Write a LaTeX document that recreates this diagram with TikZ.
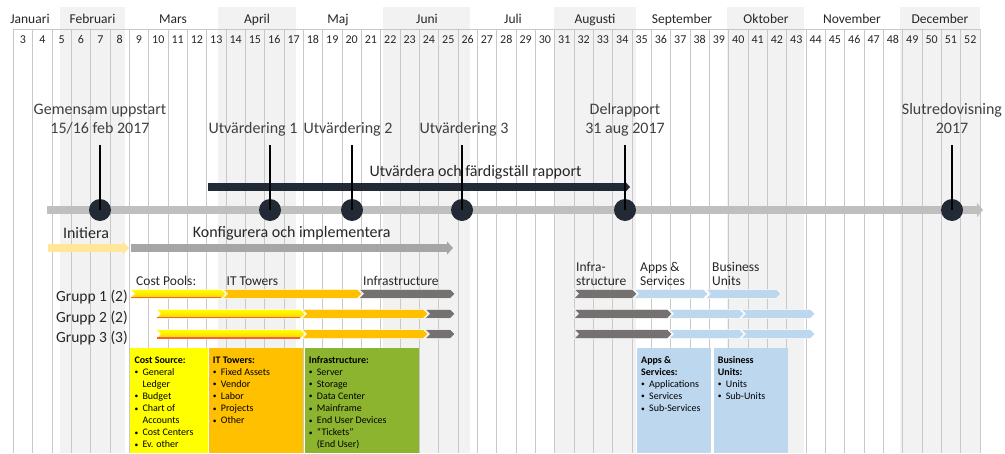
\documentclass[tikz,border=0pt]{standalone}
\usepackage{fontspec}
\setmainfont{Carlito}
\usetikzlibrary{arrows.meta}

\definecolor{band}{HTML}{F2F2F2}
\definecolor{gridc}{HTML}{C8C8C8}
\definecolor{txt}{HTML}{262626}
\definecolor{lbl}{HTML}{404040}
\definecolor{axis}{HTML}{BFBFBF}
\definecolor{navy}{HTML}{222A35}
\definecolor{initc}{HTML}{FFE699}
\definecolor{implc}{HTML}{A6A6A6}
\definecolor{ylw}{HTML}{FFFF00}
\definecolor{ylwb}{HTML}{FFD200}
\definecolor{redl}{HTML}{F4623A}
\definecolor{org}{HTML}{FFC000}
\definecolor{dgray}{HTML}{767171}
\definecolor{lblue}{HTML}{BDD7EE}
\definecolor{grn}{HTML}{8DB42F}

\newcommand\fsz[2]{\fontsize{#1}{#2}\selectfont}
\newcommand\bl[1]{\makebox[8pt][l]{\raisebox{0.6pt}{\fsz{7.5}{8}\textbullet}}#1}
\newcommand\ct[1]{\hspace*{8pt}#1}

% chevron: left edge, tip, centre line, style
\newcommand\chev[4]{%
  \path[#4] (#1,#3-4.5) -- (#2-4.5,#3-4.5) -- (#2,#3) -- (#2-4.5,#3+4.5)
    -- (#1,#3+4.5) -- (#1+4.5,#3) -- cycle;}
% yellow chevron with its red lower edge
\newcommand\ychev[3]{%
  \chev{#1}{#2}{#3}{top color=ylw, bottom color=ylwb, chevline}
  \draw[redl, line width=1.4] (#1+1,#3+3.8) -- (#2-5,#3+3.8);}
% lines of text in a category box
\newcommand\boxtext[3]{%
  \foreach \t [count=\k from 0] in {#3}{\node[boxtxt] (#1\k) at (#2,363.2+\k*12.1) {\t};}}

\tikzset{
  monthlbl/.style={font=\fsz{13.5}{16}, text=txt, anchor=base, inner sep=0},
  weeklbl/.style={font=\fsz{12}{14}, text=txt, anchor=base, inner sep=0},
  gridline/.style={draw=gridc, line width=0.8},
  mslbl/.style={font=\fsz{16}{19}, text=lbl, anchor=base, inner sep=0},
  phase/.style={font=\fsz{16}{19}, text=txt, anchor=base, inner sep=0},
  grplbl/.style={font=\fsz{15.5}{18}, text=txt, anchor=base east, inner sep=0},
  barlbl/.style={font=\fsz{13.5}{16}, text=txt, anchor=base west, inner sep=0},
  boxtxt/.style={font=\fsz{10}{12}, text=black, anchor=base west, inner sep=0},
  milestone/.style={circle, fill=navy, minimum size=22, inner sep=0},
  stem/.style={draw=black, line width=2},
  bararrow/.style={line width=8.5, -{Triangle[length=6pt,width=13pt]}},
  chevline/.style={draw=white, line width=0.5},
}

\begin{document}
\begin{tikzpicture}[x=1pt, y=-1pt]
\useasboundingbox (0,0) rectangle (1005,453);

% shaded month bands
\foreach \a/\b in {60/125,218/296,383/470,554/636,727/804,900/980}
  \fill[band] (\a,7) rectangle (\b,453);

% week columns
\foreach \i in {0,...,49}{
  \pgfmathsetmacro\xl{13.33+\i*19.333}
  \pgfmathtruncatemacro\wk{\i+3}
  \draw[gridline] (\xl,29) -- (\xl,453);
  \node[weeklbl] (w\wk) at (\xl+9.667,43.8) {\wk};
}
\draw[gridline] (980,29) -- (980,453);
\draw[gridline] (13.33,29) -- (980,29);

% month names
\foreach \m/\x in {Januari/30,Februari/92.5,Mars/173,April/257,Maj/338,Juni/427,
  Juli/513,Augusti/595,September/682,Oktober/766,November/852,December/940}
  \node[monthlbl] (m-\m) at (\x,23.3) {\m};

% main time axis
\coordinate (axisL) at (47,210);
\coordinate (axisR) at (983,210);
\draw[axis, line width=8, -{Triangle[length=6pt,width=14pt]}] (axisL) -- (axisR);

% evaluation and report phase
\coordinate (evalL) at (208,187);
\coordinate (evalR) at (630,187);
\draw[navy, bararrow, line width=8] (evalL) -- (evalR);
\node[phase] (evaltxt) at (475.5,176) {Utvärdera och färdigställ rapport};

% milestones
\foreach \n/\x in {ms1/100,ms2/270,ms3/352,ms4/462,ms5/625,ms6/952}{
  \node[milestone] (\n) at (\x,210) {};
  \coordinate (\n top) at (\x,145);
  \draw[stem] (\n top) -- (\n.center);
}
\node[mslbl] (ms1a) at (100,114.4) {Gemensam uppstart};
\node[mslbl] (ms1b) at (100,133.4) {15/16 feb 2017};
\node[mslbl] (ms2a) at (253,133.4) {Utvärdering 1};
\node[mslbl] (ms3a) at (348,133.4) {Utvärdering 2};
\node[mslbl] (ms4a) at (464,133.4) {Utvärdering 3};
\node[mslbl] (ms5a) at (625,114.4) {Delrapport};
\node[mslbl] (ms5b) at (625,133.4) {31 aug 2017};
\node[mslbl] (ms6a) at (952,114.4) {Slutredovisning};
\node[mslbl] (ms6b) at (952,133.4) {2017};

% start-up and implementation phases
\coordinate (initL) at (48,248);
\coordinate (initR) at (129,248);
\coordinate (implL) at (131,248);
\coordinate (implR) at (453,248);
\draw[initc, bararrow] (initL) -- (initR);
\draw[implc, bararrow] (implL) -- (implR);
\node[phase] (inittxt) at (86,238.4) {Initiera};
\node[phase] (impltxt) at (291.7,237) {Konfigurera och implementera};

% group rows
\node[grplbl] (g1) at (128,301.7) {Grupp 1 (2)};
\node[grplbl] (g2) at (128,322.3) {Grupp 2 (2)};
\node[grplbl] (g3) at (128,342.3) {Grupp 3 (3)};

\node[barlbl] (lcp) at (136,285) {Cost Pools:};
\node[barlbl] (lit) at (226.5,285) {IT Towers};
\node[barlbl] (lin) at (363,285) {Infrastructure};
\node[barlbl] (lin2a) at (576,271.3) {Infra-};
\node[barlbl] (lin2b) at (576,285.3) {structure};
\node[barlbl] (lapa) at (640,271.3) {Apps \&};
\node[barlbl] (lapb) at (640,285.3) {Services};
\node[barlbl] (lbua) at (712,271.3) {Business};
\node[barlbl] (lbub) at (712,285.3) {Units};

% first block of work
\ychev{130}{226}{293.8}
\chev{223}{362}{293.8}{fill=org, chevline}
\chev{359}{455}{293.8}{fill=dgray, chevline}
\foreach \y in {313.8,334}{
  \ychev{156}{305}{\y}
  \chev{302}{428}{\y}{fill=org, chevline}
  \chev{425}{455}{\y}{fill=dgray, chevline}
}
% second block of work
\chev{574}{637}{293.8}{fill=dgray, chevline}
\chev{634}{708}{293.8}{fill=lblue, chevline}
\chev{706}{781}{293.8}{fill=lblue, chevline}
\foreach \y in {313.8,334}{
  \chev{574}{672}{\y}{fill=dgray, chevline}
  \chev{669}{744}{\y}{fill=lblue, chevline}
  \chev{741}{815}{\y}{fill=lblue, chevline}
}

% category boxes
\fill[ylw]   (130,348) rectangle (207.7,453);
\fill[org]   (209,348) rectangle (303,453);
\fill[grn]   (305,348) rectangle (419,453);
\fill[lblue] (637,348) rectangle (711,453);
\fill[lblue] (714,348) rectangle (788,453);

\boxtext{cs}{134.3}{{\textbf{Cost Source:}},\bl{General},\ct{Ledger},\bl{Budget},\bl{Chart of},\ct{Accounts},\bl{Cost Centers},\bl{Ev. other}}
\boxtext{it}{212.7}{{\textbf{IT Towers:}},\bl{Fixed Assets},\bl{Vendor},\bl{Labor},\bl{Projects},\bl{Other}}
\boxtext{inf}{308.7}{{\textbf{Infrastructure:}},\bl{Server},\bl{Storage},\bl{Data Center},\bl{Mainframe},\bl{End User Devices},\bl{``Tickets''},\ct{(End User)}}
\boxtext{as}{641}{{\textbf{Apps \&}},{\textbf{Services:}},\bl{Applications},\bl{Services},\bl{Sub-Services}}
\boxtext{bu}{717.7}{{\textbf{Business}},{\textbf{Units:}},\bl{Units},\bl{Sub-Units}}
\end{tikzpicture}
\end{document}
